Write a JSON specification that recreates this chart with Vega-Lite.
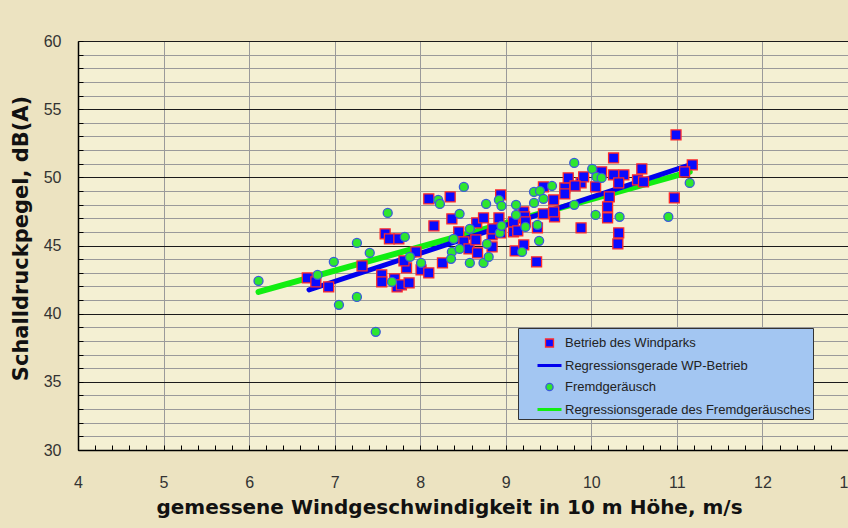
{
  "$schema": "https://vega.github.io/schema/vega-lite/v6.json",
  "width": 770,
  "height": 409,
  "autosize": {"type": "none"},
  "padding": {"left": 78, "top": 41, "right": 0, "bottom": 78},
  "background": "#ece3c1",
  "config": {
    "view": {"stroke": null, "fill": "#f4f0d3"},
    "legend": {
      "fillColor": "#a3c6f2",
      "strokeColor": "#333333",
      "strokeWidth": 1,
      "padding": 2,
      "symbolOffset": 16,
      "symbolSize": 576,
      "labelOffset": 2,
      "rowPadding": 1,
      "gridAlign": "all",
      "labelLimit": 320,
      "labelFont": "Liberation Sans",
      "labelFontSize": 13,
      "labelColor": "#222222",
      "symbolOpacity": 1
    }
  },
  "data": {
    "values": [
      {"s": "Regressionsgerade des Fremdgeräusches", "x": 6.11, "y": 41.6},
      {"s": "Regressionsgerade des Fremdgeräusches", "x": 11.15, "y": 50.4},
      {"s": "Regressionsgerade WP-Betrieb", "x": 6.7, "y": 41.75},
      {"s": "Regressionsgerade WP-Betrieb", "x": 11.17, "y": 50.95},
      {"s": "Betrieb des Windparks", "x": 6.68, "y": 42.62},
      {"s": "Betrieb des Windparks", "x": 6.78, "y": 42.33},
      {"s": "Betrieb des Windparks", "x": 6.93, "y": 41.96},
      {"s": "Betrieb des Windparks", "x": 7.32, "y": 43.5},
      {"s": "Betrieb des Windparks", "x": 7.55, "y": 42.84},
      {"s": "Betrieb des Windparks", "x": 7.55, "y": 42.33},
      {"s": "Betrieb des Windparks", "x": 7.7, "y": 42.55},
      {"s": "Betrieb des Windparks", "x": 7.73, "y": 41.96},
      {"s": "Betrieb des Windparks", "x": 7.78, "y": 42.11},
      {"s": "Betrieb des Windparks", "x": 7.87, "y": 42.26},
      {"s": "Betrieb des Windparks", "x": 7.84, "y": 43.36},
      {"s": "Betrieb des Windparks", "x": 7.81, "y": 43.87},
      {"s": "Betrieb des Windparks", "x": 7.95, "y": 44.53},
      {"s": "Betrieb des Windparks", "x": 8.1, "y": 48.42},
      {"s": "Betrieb des Windparks", "x": 8.35, "y": 48.56},
      {"s": "Betrieb des Windparks", "x": 7.59, "y": 45.85},
      {"s": "Betrieb des Windparks", "x": 7.64, "y": 45.48},
      {"s": "Betrieb des Windparks", "x": 7.75, "y": 45.48},
      {"s": "Betrieb des Windparks", "x": 8.16, "y": 46.44},
      {"s": "Betrieb des Windparks", "x": 8.37, "y": 46.95},
      {"s": "Betrieb des Windparks", "x": 8.01, "y": 43.21},
      {"s": "Betrieb des Windparks", "x": 8.1, "y": 42.99},
      {"s": "Betrieb des Windparks", "x": 8.26, "y": 43.72},
      {"s": "Betrieb des Windparks", "x": 8.45, "y": 46.0},
      {"s": "Betrieb des Windparks", "x": 8.51, "y": 45.26},
      {"s": "Betrieb des Windparks", "x": 8.57, "y": 44.75},
      {"s": "Betrieb des Windparks", "x": 8.65, "y": 45.41},
      {"s": "Betrieb des Windparks", "x": 8.67, "y": 44.46},
      {"s": "Betrieb des Windparks", "x": 8.66, "y": 46.66},
      {"s": "Betrieb des Windparks", "x": 8.74, "y": 47.02},
      {"s": "Betrieb des Windparks", "x": 8.94, "y": 48.71},
      {"s": "Betrieb des Windparks", "x": 8.84, "y": 45.78},
      {"s": "Betrieb des Windparks", "x": 8.84, "y": 44.9},
      {"s": "Betrieb des Windparks", "x": 8.93, "y": 46.29},
      {"s": "Betrieb des Windparks", "x": 9.09, "y": 46.0},
      {"s": "Betrieb des Windparks", "x": 9.11, "y": 44.6},
      {"s": "Betrieb des Windparks", "x": 9.21, "y": 45.04},
      {"s": "Betrieb des Windparks", "x": 9.21, "y": 47.46},
      {"s": "Betrieb des Windparks", "x": 9.22, "y": 47.1},
      {"s": "Betrieb des Windparks", "x": 9.36, "y": 43.8},
      {"s": "Betrieb des Windparks", "x": 9.44, "y": 49.3},
      {"s": "Betrieb des Windparks", "x": 9.44, "y": 47.32},
      {"s": "Betrieb des Windparks", "x": 9.56, "y": 48.34},
      {"s": "Betrieb des Windparks", "x": 9.57, "y": 47.1},
      {"s": "Betrieb des Windparks", "x": 9.69, "y": 49.22},
      {"s": "Betrieb des Windparks", "x": 9.69, "y": 48.78},
      {"s": "Betrieb des Windparks", "x": 9.73, "y": 49.96},
      {"s": "Betrieb des Windparks", "x": 9.88, "y": 49.59},
      {"s": "Betrieb des Windparks", "x": 9.91, "y": 50.03},
      {"s": "Betrieb des Windparks", "x": 9.81, "y": 49.37},
      {"s": "Betrieb des Windparks", "x": 10.05, "y": 49.3},
      {"s": "Betrieb des Windparks", "x": 10.12, "y": 50.4},
      {"s": "Betrieb des Windparks", "x": 10.26, "y": 51.42},
      {"s": "Betrieb des Windparks", "x": 10.26, "y": 50.18},
      {"s": "Betrieb des Windparks", "x": 10.38, "y": 50.18},
      {"s": "Betrieb des Windparks", "x": 10.32, "y": 49.59},
      {"s": "Betrieb des Windparks", "x": 10.21, "y": 48.56},
      {"s": "Betrieb des Windparks", "x": 10.19, "y": 47.83},
      {"s": "Betrieb des Windparks", "x": 10.19, "y": 47.02},
      {"s": "Betrieb des Windparks", "x": 9.88, "y": 46.29},
      {"s": "Betrieb des Windparks", "x": 10.32, "y": 45.92},
      {"s": "Betrieb des Windparks", "x": 10.31, "y": 45.12},
      {"s": "Betrieb des Windparks", "x": 9.37, "y": 46.29},
      {"s": "Betrieb des Windparks", "x": 10.59, "y": 50.62},
      {"s": "Betrieb des Windparks", "x": 10.54, "y": 49.81},
      {"s": "Betrieb des Windparks", "x": 10.61, "y": 49.66},
      {"s": "Betrieb des Windparks", "x": 10.99, "y": 53.11},
      {"s": "Betrieb des Windparks", "x": 11.18, "y": 50.91},
      {"s": "Betrieb des Windparks", "x": 11.09, "y": 50.4},
      {"s": "Betrieb des Windparks", "x": 10.97, "y": 48.49},
      {"s": "Betrieb des Windparks", "x": 9.09, "y": 46.73},
      {"s": "Betrieb des Windparks", "x": 9.23, "y": 46.73},
      {"s": "Betrieb des Windparks", "x": 9.56, "y": 47.46},
      {"s": "Betrieb des Windparks", "x": 8.94, "y": 45.92},
      {"s": "Betrieb des Windparks", "x": 8.92, "y": 47.02},
      {"s": "Betrieb des Windparks", "x": 9.14, "y": 46.07},
      {"s": "Betrieb des Windparks", "x": 8.85, "y": 46.22},
      {"s": "Fremdgeräusch", "x": 6.11, "y": 42.4},
      {"s": "Fremdgeräusch", "x": 6.8, "y": 42.84},
      {"s": "Fremdgeräusch", "x": 6.99, "y": 43.8},
      {"s": "Fremdgeräusch", "x": 7.05, "y": 40.65},
      {"s": "Fremdgeräusch", "x": 7.26, "y": 45.19},
      {"s": "Fremdgeräusch", "x": 7.26, "y": 41.23},
      {"s": "Fremdgeräusch", "x": 7.41, "y": 44.46},
      {"s": "Fremdgeräusch", "x": 7.48, "y": 38.67},
      {"s": "Fremdgeräusch", "x": 7.62, "y": 47.39},
      {"s": "Fremdgeräusch", "x": 7.82, "y": 45.63},
      {"s": "Fremdgeräusch", "x": 7.67, "y": 42.33},
      {"s": "Fremdgeräusch", "x": 7.88, "y": 44.16},
      {"s": "Fremdgeräusch", "x": 8.01, "y": 43.72},
      {"s": "Fremdgeräusch", "x": 8.21, "y": 48.34},
      {"s": "Fremdgeräusch", "x": 8.23, "y": 48.05},
      {"s": "Fremdgeräusch", "x": 8.51, "y": 49.3},
      {"s": "Fremdgeräusch", "x": 8.46, "y": 47.32},
      {"s": "Fremdgeräusch", "x": 8.58, "y": 46.22},
      {"s": "Fremdgeräusch", "x": 8.39, "y": 45.48},
      {"s": "Fremdgeräusch", "x": 8.37, "y": 44.53},
      {"s": "Fremdgeräusch", "x": 8.36, "y": 44.02},
      {"s": "Fremdgeräusch", "x": 8.46, "y": 44.75},
      {"s": "Fremdgeräusch", "x": 8.58, "y": 43.72},
      {"s": "Fremdgeräusch", "x": 8.74, "y": 43.72},
      {"s": "Fremdgeräusch", "x": 8.78, "y": 45.12},
      {"s": "Fremdgeräusch", "x": 8.8, "y": 44.16},
      {"s": "Fremdgeräusch", "x": 8.77, "y": 48.05},
      {"s": "Fremdgeräusch", "x": 8.92, "y": 48.34},
      {"s": "Fremdgeräusch", "x": 8.95, "y": 47.9},
      {"s": "Fremdgeräusch", "x": 8.93, "y": 45.92},
      {"s": "Fremdgeräusch", "x": 8.95, "y": 46.44},
      {"s": "Fremdgeräusch", "x": 9.19, "y": 44.53},
      {"s": "Fremdgeräusch", "x": 9.12, "y": 47.98},
      {"s": "Fremdgeräusch", "x": 9.12, "y": 47.24},
      {"s": "Fremdgeräusch", "x": 9.23, "y": 46.36},
      {"s": "Fremdgeräusch", "x": 9.33, "y": 48.93},
      {"s": "Fremdgeräusch", "x": 9.33, "y": 48.12},
      {"s": "Fremdgeräusch", "x": 9.37, "y": 46.51},
      {"s": "Fremdgeräusch", "x": 9.39, "y": 45.34},
      {"s": "Fremdgeräusch", "x": 9.8, "y": 51.06},
      {"s": "Fremdgeräusch", "x": 10.01, "y": 50.62},
      {"s": "Fremdgeräusch", "x": 10.06, "y": 50.03},
      {"s": "Fremdgeräusch", "x": 10.12, "y": 49.96},
      {"s": "Fremdgeräusch", "x": 9.4, "y": 49.0},
      {"s": "Fremdgeräusch", "x": 9.54, "y": 49.37},
      {"s": "Fremdgeräusch", "x": 9.44, "y": 48.42},
      {"s": "Fremdgeräusch", "x": 9.8, "y": 47.98},
      {"s": "Fremdgeräusch", "x": 10.05, "y": 47.24},
      {"s": "Fremdgeräusch", "x": 10.33, "y": 47.1},
      {"s": "Fremdgeräusch", "x": 10.9, "y": 47.1},
      {"s": "Fremdgeräusch", "x": 11.15, "y": 49.59}
    ]
  },
  "encoding": {
    "x": {
      "field": "x", "type": "quantitative",
      "scale": {"domain": [4, 13], "nice": false, "zero": false},
      "title": "gemessene Windgeschwindigkeit in 10 m Höhe,  m/s",
      "axis": {
        "values": [4, 4.2, 4.4, 4.6, 4.8, 5, 5.2, 5.4, 5.6, 5.8, 6, 6.2, 6.4, 6.6, 6.8, 7, 7.2, 7.4, 7.6, 7.8, 8, 8.2, 8.4, 8.6, 8.8, 9, 9.2, 9.4, 9.6, 9.8, 10, 10.2, 10.4, 10.6, 10.8, 11, 11.2, 11.4, 11.6, 11.8, 12, 12.2, 12.4, 12.6, 12.8, 13],
        "tickCount": 200,
        "labelExpr": "abs(datum.value - round(datum.value)) < 0.001 ? format(datum.value, 'd') : ''",
        "labelOverlap": false,
        "labelFlush": false,
        "grid": true,
        "gridColor": "#9a9a9a",
        "gridWidth": 1,
        "gridOpacity": {"condition": {"test": "abs(datum.value - round(datum.value)) < 0.001", "value": 1}, "value": 0},
        "domainColor": "#000000",
        "domainWidth": 1.5,
        "tickColor": "#000000",
        "tickSize": -5,
        "labelPadding": 29,
        "labelFont": "Liberation Sans",
        "labelFontSize": 16,
        "labelColor": "#333333",
        "titleFont": "DejaVu Sans",
        "titleFontWeight": "bold",
        "titleFontSize": 20,
        "titleColor": "#111111",
        "titlePadding": 7,
        "titleX": 371
      }
    },
    "y": {
      "field": "y", "type": "quantitative",
      "scale": {"domain": [30, 60], "nice": false, "zero": false},
      "title": "Schalldruckpegel, dB(A)",
      "axis": {
        "values": [30, 31, 32, 33, 34, 35, 36, 37, 38, 39, 40, 41, 42, 43, 44, 45, 46, 47, 48, 49, 50, 51, 52, 53, 54, 55, 56, 57, 58, 59, 60],
        "tickCount": 200,
        "labelExpr": "datum.value % 5 === 0 ? format(datum.value, 'd') : ''",
        "labelOverlap": false,
        "labelFlush": false,
        "grid": true,
        "gridColor": {"condition": {"test": "datum.value % 5 === 0", "value": "#1a1a1a"}, "value": "#9a9a9a"},
        "gridWidth": 1,
        "domainColor": "#000000",
        "domainWidth": 1.5,
        "tickColor": "#000000",
        "tickSize": -5,
        "labelPadding": 22,
        "labelFont": "Liberation Sans",
        "labelFontSize": 16,
        "labelColor": "#333333",
        "titleFont": "DejaVu Sans",
        "titleFontWeight": "bold",
        "titleFontSize": 21,
        "titleColor": "#111111",
        "titlePadding": 12,
        "titleY": 197
      }
    },
    "stroke": {
      "field": "s", "type": "nominal",
      "scale": {
        "domain": ["Betrieb des Windparks", "Regressionsgerade WP-Betrieb", "Fremdgeräusch", "Regressionsgerade des Fremdgeräusches"],
        "range": ["#ff2a2a", "#0000ee", "#3a5bd8", "#11ee11"]
      },
      "legend": {"orient": "none", "legendX": 440, "legendY": 287, "title": null}
    }
  },
  "layer": [
    {
      "transform": [{"filter": {"field": "s", "equal": "Regressionsgerade des Fremdgeräusches"}}],
      "mark": {"type": "line", "strokeWidth": 6, "strokeCap": "round"}
    },
    {
      "transform": [{"filter": {"field": "s", "equal": "Regressionsgerade WP-Betrieb"}}],
      "mark": {"type": "line", "strokeWidth": 5, "strokeCap": "round"}
    },
    {
      "transform": [{"filter": {"field": "s", "oneOf": ["Betrieb des Windparks", "Fremdgeräusch"]}}],
      "mark": {"type": "point", "filled": true, "opacity": 1, "size": 900},
      "encoding": {
        "shape": {
          "field": "s", "type": "nominal",
          "scale": {
            "domain": ["Betrieb des Windparks", "Regressionsgerade WP-Betrieb", "Fremdgeräusch", "Regressionsgerade des Fremdgeräusches"],
            "range": ["M-0.333,-0.333H0.333V0.333H-0.333Z", "M-1,0H1", "M0.3,0A0.3,0.3,0,1,1,-0.3,0A0.3,0.3,0,1,1,0.3,0Z", "M-1,0H1"]
          },
          "legend": {"orient": "none", "legendX": 440, "legendY": 287, "title": null}
        },
        "fill": {
          "field": "s", "type": "nominal",
          "scale": {
            "domain": ["Betrieb des Windparks", "Regressionsgerade WP-Betrieb", "Fremdgeräusch", "Regressionsgerade des Fremdgeräusches"],
            "range": ["#0a0aff", "#0000ee", "#2ee62e", "#11ee11"]
          },
          "legend": {"orient": "none", "legendX": 440, "legendY": 287, "title": null}
        },
        "strokeWidth": {
          "field": "s", "type": "nominal",
          "scale": {
            "type": "ordinal",
            "domain": ["Betrieb des Windparks", "Regressionsgerade WP-Betrieb", "Fremdgeräusch", "Regressionsgerade des Fremdgeräusches"],
            "range": [1.3, 3, 1.3, 3]
          },
          "legend": {"orient": "none", "legendX": 440, "legendY": 287, "title": null}
        }
      }
    }
  ]
}
